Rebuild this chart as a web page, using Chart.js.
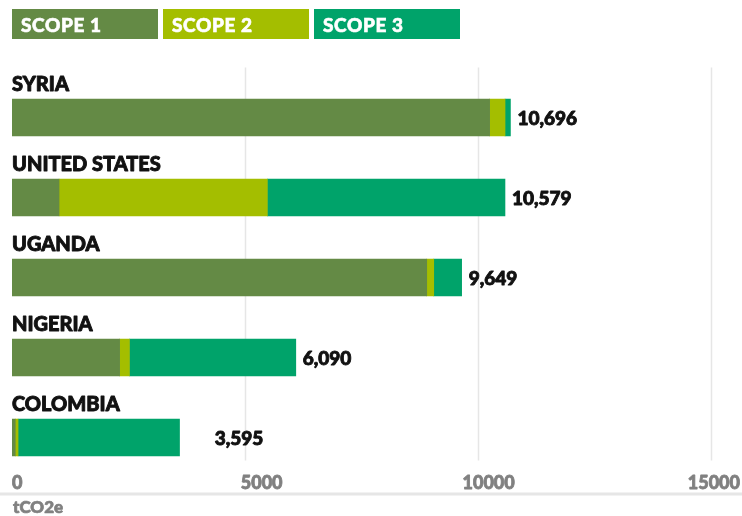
<!DOCTYPE html>
<html>
<head>
<meta charset="utf-8">
<script src="https://cdn.jsdelivr.net/npm/chart.js@4/dist/chart.umd.min.js"></script>
<style>
  body { margin: 0; background: #fff; font-family: Lato, sans-serif; }
  #wrap { position: relative; width: 742px; height: 516px; }
  #legenda { position: absolute; left: 12px; top: 9px; display: flex; gap: 5px; }
  .caixa { width: 146px; height: 30px; color: #fff; font: 900 19px Lato, sans-serif;
           line-height: 31px; padding-left: 9px; box-sizing: border-box; letter-spacing: 0.6px;
           -webkit-text-stroke: 0.6px #fff; }
</style>
</head>
<body>
<div id="wrap">
  <canvas id="grafico" width="742" height="516"></canvas>
  <div id="legenda"></div>
</div>
<script>
// dados
var paises = ["SYRIA", "UNITED STATES", "UGANDA", "NIGERIA", "COLOMBIA"];
var escopo1 = [10250, 1010, 8900, 2310, 70];
var escopo2 = [330, 4470, 150, 210, 60];
var escopo3 = [116, 5099, 599, 3570, 3465];
var totais = [10696, 10579, 9649, 6090, 3595];
var nomesSeries = ["SCOPE 1", "SCOPE 2", "SCOPE 3"];
var coresSeries = ["#648a45", "#a4be00", "#00a36a"];
var ticksX = [0, 5000, 10000, 15000];
var unidade = "tCO2e";

// legenda em html
var legenda = document.getElementById("legenda");
for (var i = 0; i < nomesSeries.length; i++) {
  legenda.innerHTML += '<div class="caixa" style="background:' + coresSeries[i] + '">' + nomesSeries[i] + '</div>';
}

function formatar(n) {
  return n.toString().replace(/\B(?=(\d{3})+(?!\d))/g, ",");
}

// texto mais pesado: preenche e contorna com a mesma cor
function textoForte(ctx, txt, x, y, grossura) {
  ctx.lineWidth = grossura;
  ctx.lineJoin = "round";
  ctx.strokeStyle = ctx.fillStyle;
  ctx.strokeText(txt, x, y);
  ctx.fillText(txt, x, y);
}

var desenhos = {
  id: "desenhos",
  beforeDatasetsDraw: function (chart) {
    var ctx = chart.ctx;
    var x = chart.scales.x;
    var area = chart.chartArea;
    ctx.save();
    ctx.strokeStyle = "#e6e6e6";
    ctx.lineWidth = 1.5;
    for (var i = 0; i < ticksX.length; i++) {
      if (ticksX[i] == 0) continue;
      var px = Math.round(x.getPixelForValue(ticksX[i])) + 0.5;
      ctx.beginPath();
      ctx.moveTo(px, area.top - 10);
      ctx.lineTo(px, area.bottom - 17);
      ctx.stroke();
    }
    ctx.restore();
  },
  afterDatasetsDraw: function (chart) {
    var ctx = chart.ctx;
    var x = chart.scales.x;
    var area = chart.chartArea;
    var barrasFim = chart.getDatasetMeta(2).data;
    ctx.save();

    // nomes dos paises e totais
    for (var i = 0; i < paises.length; i++) {
      var barra = barrasFim[i];
      ctx.fillStyle = "#111";
      ctx.textBaseline = "middle";
      ctx.textAlign = "left";
      ctx.font = "900 20px Lato, sans-serif";
      textoForte(ctx, paises[i], area.left, barra.y - 33, 0.9);

      var xTexto = Math.max(barra.x + 7, x.getPixelForValue(4350));
      ctx.font = "900 19px Lato, sans-serif";
      textoForte(ctx, formatar(totais[i]), xTexto, barra.y + 1, 0.9);
    }

    // eixo x
    ctx.fillStyle = "#e6e6e6";
    ctx.fillRect(0, 492.5, chart.width, 3);

    ctx.fillStyle = "#808080";
    ctx.font = "900 18px Lato, sans-serif";
    ctx.textBaseline = "middle";
    ctx.textAlign = "left";
    var esq = area.left;
    var dir = chart.width - 2;
    for (var j = 0; j < ticksX.length; j++) {
      var f = (ticksX[j] - x.min) / (x.max - x.min);
      var txt = String(ticksX[j]);
      var w = ctx.measureText(txt).width;
      textoForte(ctx, txt, esq + f * (dir - esq) - f * w, 483, 0.8);
    }
    ctx.font = "900 17px Lato, sans-serif";
    textoForte(ctx, unidade, area.left + 1, 508, 0.7);
    ctx.restore();
  }
};

var dados = [escopo1, escopo2, escopo3];
var conjuntos = [];
for (var k = 0; k < dados.length; k++) {
  conjuntos.push({
    label: nomesSeries[k],
    data: dados[k],
    backgroundColor: coresSeries[k],
    borderWidth: 0,
    barThickness: 37
  });
}

new Chart(document.getElementById("grafico").getContext("2d"), {
  type: "bar",
  data: { labels: paises, datasets: conjuntos },
  options: {
    indexAxis: "y",
    responsive: false,
    animation: false,
    layout: { padding: { left: 12, right: 31, top: 77.5, bottom: 38.5 } },
    plugins: { legend: { display: false }, tooltip: { enabled: false } },
    scales: {
      x: { display: false, stacked: true, min: 0, max: 15000, ticks: { stepSize: 5000 } },
      y: { display: false, stacked: true }
    }
  },
  plugins: [desenhos]
});
</script>
</body>
</html>
